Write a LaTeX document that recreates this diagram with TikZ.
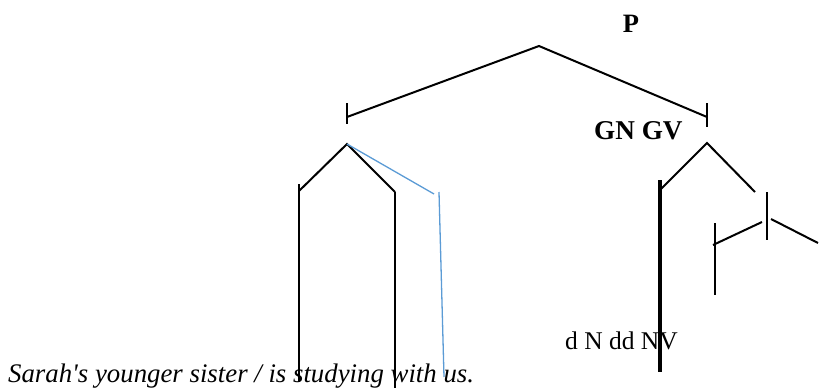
\documentclass[tikz,border=0pt]{standalone}
\usepackage{fontspec}
\setmainfont{Liberation Serif}[Ligatures=TeXOff]
\begin{document}
\begin{tikzpicture}[x=1pt,y=-1pt,
  ln/.style={black,line width=2pt},
  thk/.style={black,line width=3.4pt},
  bl/.style={color={rgb,255:red,91;green,155;blue,213},line width=1.3pt},
  lbl/.style={inner sep=0pt,font=\fontsize{25.5}{30}\selectfont}]
\useasboundingbox (0,0) rectangle (823,388);
% labels
\node[lbl,anchor=base,font=\fontsize{26.5}{30}\selectfont\bfseries] (P) at (631,32) {P};
\node[lbl,anchor=base west,font=\fontsize{27.2}{30}\selectfont\bfseries] (GNGV) at (594,139) {GN GV};
\node[lbl,anchor=base west] (dn) at (565,349) {d N dd NV};
\node[lbl,anchor=base west,font=\fontsize{26.8}{30}\selectfont\itshape] (sent) at (8,382) {Sarah's younger sister / is studying with us.};
% coordinates
\coordinate (top) at (539,46);
\coordinate (L) at (347,117);
\coordinate (R) at (707,117);
\coordinate (Lt1) at (347,103); \coordinate (Lt2) at (347,124);
\coordinate (Rt1) at (707,103); \coordinate (Rt2) at (707,127);
\coordinate (La) at (347,144);
\coordinate (La1) at (299,191);
\coordinate (La2) at (395,192);
\coordinate (La3) at (434,194);
\coordinate (v1a) at (299,184); \coordinate (v1b) at (299,382);
\coordinate (v2a) at (395,192); \coordinate (v2b) at (395,388);
\coordinate (v3a) at (439,192); \coordinate (v3b) at (444,377);
\coordinate (Ra) at (707,143);
\coordinate (Ra1) at (660,190);
\coordinate (Ra2) at (755,192);
\coordinate (tv1) at (660,180); \coordinate (tv2) at (660,372);
\coordinate (tk1) at (767,192); \coordinate (tk2) at (767,240);
\coordinate (s1) at (713,245); \coordinate (s2) at (762,222);
\coordinate (s3) at (771,219); \coordinate (s4) at (818,243);
\coordinate (w1) at (715,223); \coordinate (w2) at (715,295);
% lines
\draw[ln] (L) -- (top) -- (R);
\draw[ln] (Lt1) -- (Lt2);
\draw[ln] (Rt1) -- (Rt2);
\draw[ln] (La1) -- (La) -- (La2);
\draw[bl] (La) -- (La3);
\draw[ln] (v1a) -- (v1b);
\draw[ln] (v2a) -- (v2b);
\draw[bl] (v3a) -- (v3b);
\draw[ln] (Ra1) -- (Ra) -- (Ra2);
\draw[thk] (tv1) -- (tv2);
\draw[ln] (tk1) -- (tk2);
\draw[ln] (s1) -- (s2);
\draw[ln] (s3) -- (s4);
\draw[ln] (w1) -- (w2);
\end{tikzpicture}
\end{document}
